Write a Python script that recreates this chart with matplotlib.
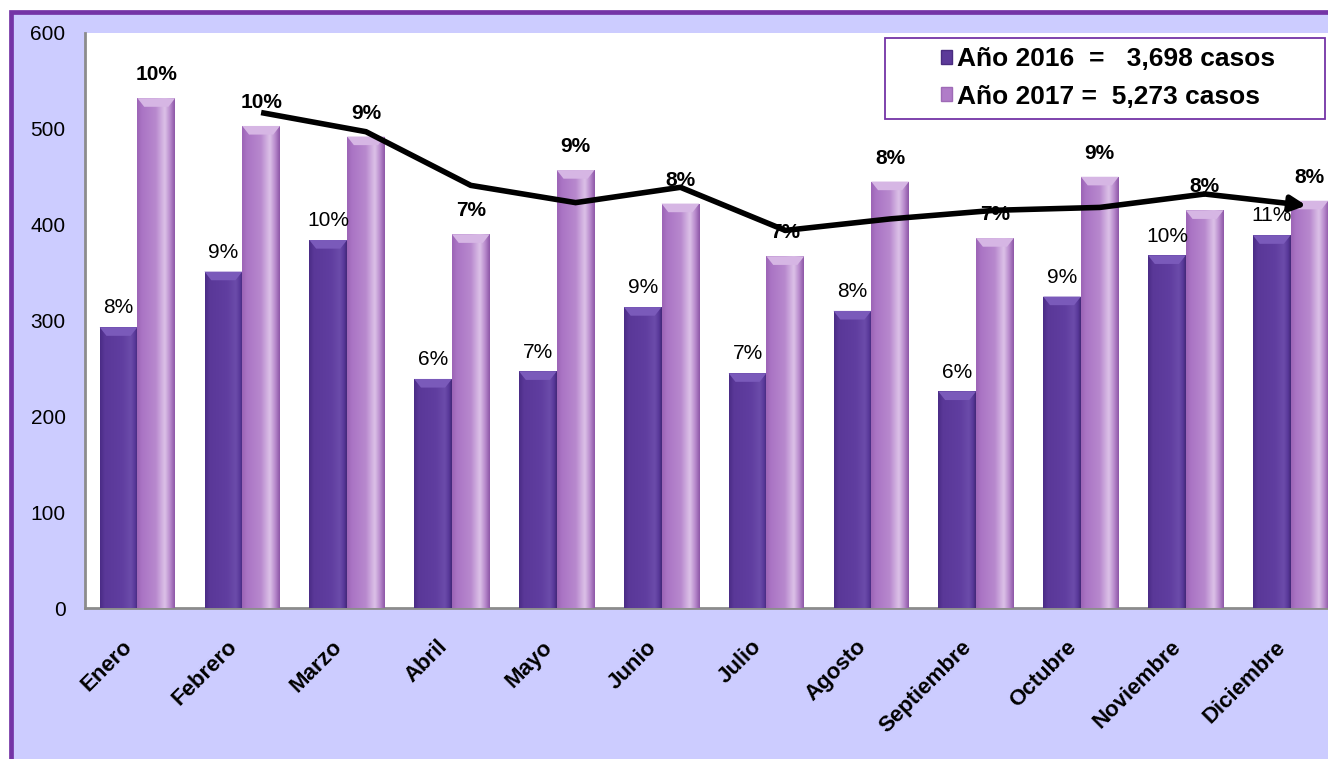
import matplotlib
matplotlib.use("Agg")
import matplotlib.pyplot as plt
from matplotlib.patches import Rectangle, Polygon
from matplotlib.colors import LinearSegmentedColormap
import numpy as np

plt.rcParams['font.family'] = ['Liberation Sans', 'DejaVu Sans']

months = ["Enero", "Febrero", "Marzo", "Abril", "Mayo", "Junio", "Julio",
          "Agosto", "Septiembre", "Octubre", "Noviembre", "Diciembre"]
cases_2016 = [293, 351, 384, 239, 247, 314, 245, 310, 226, 325, 368, 389]
cases_2017 = [532, 503, 492, 390, 457, 422, 367, 445, 386, 450, 415, 425]
pct_2016 = ["8%", "9%", "10%", "6%", "7%", "9%", "7%", "8%", "6%", "9%", "10%", "11%"]
pct_2017 = ["10%", "10%", "9%", "7%", "9%", "8%", "7%", "8%", "7%", "9%", "8%", "8%"]
# trend line (2-period moving average as drawn), starting at Febrero
trend_vals = [517, 497, 441, 423, 439, 394, 406, 415, 418, 432, 420]
legend_labels = ["Año 2016  =   3,698 casos", "Año 2017 =  5,273 casos"]
yticks = [0, 100, 200, 300, 400, 500, 600]

W, H = 1328, 759
fig = plt.figure(figsize=(W / 100, H / 100), dpi=100)
fig.patch.set_facecolor("white")

# lavender background with purple border
bg = Rectangle((10.5 / W, -0.05), 1.1, (H - 12) / H + 0.05, transform=fig.transFigure,
               facecolor="#CCCCFF", edgecolor="#7434A6", linewidth=3.4, zorder=-10)
fig.patches.append(bg)

ax = fig.add_axes([85 / W, 151 / H, (1343 - 85) / W, 575 / H])
ax.set_facecolor("white")

x = np.arange(len(months))
bw = 0.36
c16 = "#5C3A99"
c17 = "#B07CC8"
b16 = ax.bar(x - bw / 2, cases_2016, bw, color=c16, edgecolor="none", zorder=2)
b17 = ax.bar(x + bw / 2, cases_2017, bw, color=c17, edgecolor="none", zorder=2)

cm16 = LinearSegmentedColormap.from_list("g16", [
    (0.0, "#4A2C86"), (0.12, "#5A3898"), (0.6, "#603EA0"), (0.82, "#6C4CAA"),
    (0.93, "#58389A"), (1.0, "#432878")])
cm17 = LinearSegmentedColormap.from_list("g17", [
    (0.0, "#9C64B6"), (0.12, "#AA74C4"), (0.5, "#B889CE"), (0.74, "#DCC2E8"),
    (0.88, "#B98BCD"), (1.0, "#8E58A8")])
grad = np.linspace(0, 1, 64).reshape(1, -1)
for bars, cm, cap in ((b16, cm16, "#7A5ABA"), (b17, cm17, "#D6B6E4")):
    for b in bars:
        x0, w, h = b.get_x(), b.get_width(), b.get_height()
        im = ax.imshow(grad, cmap=cm, aspect="auto", extent=(x0, x0 + w, 0, h),
                       zorder=3, interpolation="bicubic")
        im.set_clip_path(b)
        # bevelled top cap
        d = 0.18 * w
        ax.add_patch(Polygon([(x0, h), (x0 + w, h), (x0 + w - d, h - 9), (x0 + d, h - 9)],
                             closed=True, facecolor=cap, edgecolor="none", zorder=4))
ax.set_aspect("auto")

for i in range(len(months)):
    ax.annotate(pct_2016[i], (x[i] - bw / 2, cases_2016[i]), xytext=(0, 7),
                textcoords="offset points", ha="center", va="bottom", fontsize=15, zorder=5)
    ax.annotate(pct_2017[i], (x[i] + bw / 2, cases_2017[i]), xytext=(0, 10),
                textcoords="offset points", ha="center", va="bottom", fontsize=15,
                fontweight="bold", zorder=5)

tx = x[1:] + bw / 2
ax.plot(tx[:-1], trend_vals[:-1], color="black", lw=4, zorder=6, solid_capstyle="butt",
        solid_joinstyle="miter")
ax.annotate("", xy=(tx[-1] - 0.03, trend_vals[-1]), xytext=(tx[-2], trend_vals[-2]),
            arrowprops=dict(arrowstyle="-|>,head_length=0.9,head_width=0.45",
                            color="black", lw=4, shrinkA=0, shrinkB=0), zorder=6)

ax.set_xlim(-0.5, len(months) - 0.5)
ax.set_ylim(0, 600)
ax.set_yticks(yticks)
ax.set_yticklabels([str(v) for v in yticks], fontsize=15)
ax.tick_params(axis="y", length=0, pad=14)
ax.tick_params(axis="x", length=0)
ax.set_xticks(x)
ax.set_xticklabels([])
for i, m in enumerate(months):
    ax.annotate(m, (x[i], 0), xytext=(-11, -20.5), textcoords="offset points",
                rotation=45, ha="right", va="top", rotation_mode="anchor",
                fontsize=16, fontweight="bold", annotation_clip=False)

for s in ("top", "right"):
    ax.spines[s].set_visible(False)
ax.spines["left"].set_color("#8C8C8C")
ax.spines["bottom"].set_color("#8C8C8C")
ax.spines["left"].set_linewidth(2)
ax.spines["bottom"].set_linewidth(2)

# legend box
fig.patches.append(Rectangle((885 / W, 1 - 119 / H), (1325 - 885) / W, 81 / H,
                             transform=fig.transFigure, facecolor="white",
                             edgecolor="#7434A6", linewidth=1.3, zorder=10))
handles = [Rectangle((0, 0), 1, 1, facecolor=c16, edgecolor="#4A2C80"),
           Rectangle((0, 0), 1, 1, facecolor=c17, edgecolor="#9E6AB6")]
leg = fig.legend(handles, legend_labels, loc="center left", bbox_to_anchor=(928 / W, 1 - 78 / H),
                 frameon=False, prop=dict(size=19, weight="bold"), handlelength=0.4,
                 handleheight=0.45, handletextpad=0.2, labelspacing=0.5, borderpad=0)
leg.set_zorder(11)

fig.savefig("out.png", dpi=100)
